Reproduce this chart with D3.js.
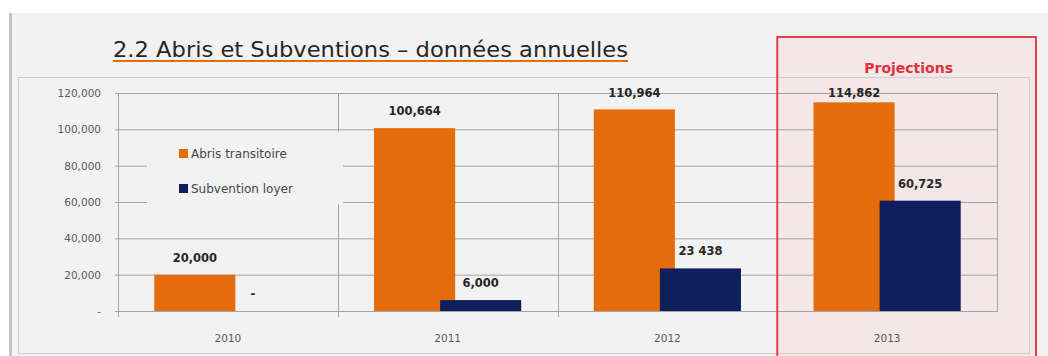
<!DOCTYPE html>
<html>
<head>
<meta charset="utf-8">
<script src="https://cdn.jsdelivr.net/npm/d3@7/dist/d3.min.js"></script>
<style>
  html, body { margin: 0; padding: 0; background: #ffffff; }
  svg { display: block; }
</style>
</head>
<body>
<svg id="chart" width="1048" height="356"></svg>
<script>
// Annual figures: transitional shelters vs. rent subsidies
const years = ["2010", "2011", "2012", "2013"];
const abrisValues = [20000, 100664, 110964, 114862];
const subventionValues = [0, 6000, 23438, 60725];
const abrisLabels = ["20,000", "100,664", "110,964", "114,862"];
const subventionLabels = ["-", "6,000", "23 438", "60,725"];
const yTicks = [0, 20000, 40000, 60000, 80000, 100000, 120000];
const yTickLabels = ["-", "20,000", "40,000", "60,000", "80,000", "100,000", "120,000"];
const seriesNames = ["Abris transitoire", "Subvention loyer"];
const projectedYear = "2013";

const ORANGE = "#e46c0a";
const NAVY = "#0f1f5e";
const BG = "#f2f2f2";
const GRID = "#a3a3a3";

const svg = d3.select("#chart");

// slide background
svg.append("rect").attr("x", 12).attr("y", 13).attr("width", 1036).attr("height", 343).attr("fill", BG);
svg.append("rect").attr("x", 9).attr("y", 13).attr("width", 3).attr("height", 343).attr("fill", "#c4c4c4");

// scales
const x = d3.scaleBand().domain(years).range([118, 997]);
const y = d3.scaleLinear().domain([0, 120000]).range([311, 93]);
const barW = x.bandwidth() * 0.369;
const overlap = barW * 0.185;

// projection highlight (fill under the chart)
const projX = x(projectedYear);
svg.append("rect")
  .attr("x", projX).attr("y", 37)
  .attr("width", 1036 - projX).attr("height", 330)
  .attr("fill", "#f3e7e7");

// title
svg.append("text")
  .attr("x", 113).attr("y", 57)
  .attr("font-family", "DejaVu Sans, sans-serif")
  .attr("font-size", 21)
  .attr("fill", "#262626")
  .attr("textLength", 515)
  .attr("lengthAdjust", "spacingAndGlyphs")
  .text("2.2 Abris et Subventions – données annuelles");
svg.append("line")
  .attr("x1", 113).attr("x2", 628).attr("y1", 61).attr("y2", 61)
  .attr("stroke", ORANGE).attr("stroke-width", 2);

// chart area frame
svg.append("rect")
  .attr("x", 18.5).attr("y", 77.5).attr("width", 1011).attr("height", 276)
  .attr("fill", "none").attr("stroke", "#cdcdcd").attr("stroke-width", 1);

// horizontal gridlines + y axis labels
const yAxis = d3.axisLeft(y)
  .tickValues(yTicks)
  .tickSize(-(997 - 118) - 3)
  .tickPadding(14)
  .tickFormat((d, i) => yTickLabels[i]);
const gy = svg.append("g").attr("transform", "translate(115,0)").call(yAxis);
gy.select(".domain").remove();
gy.selectAll(".tick line").attr("stroke", GRID);
gy.selectAll(".tick text")
  .attr("font-family", "DejaVu Sans, sans-serif")
  .attr("font-size", 10.5)
  .attr("fill", "#595959");

// category dividers with tick marks below the baseline
const bounds = years.map(d => x(d)).concat([x.range()[1]]);
svg.append("g").selectAll("line").data(bounds).join("line")
  .attr("x1", d => Math.round(d) + 0.5).attr("x2", d => Math.round(d) + 0.5)
  .attr("y1", y(120000)).attr("y2", (d, i) => i === bounds.length - 1 ? y(0) + 1 : y(0) + 6)
  .attr("stroke", GRID);

// x axis labels
const gx = svg.append("g").attr("transform", `translate(0,${y(0)})`)
  .call(d3.axisBottom(x).tickSize(0).tickPadding(24));
gx.select(".domain").remove();
gx.selectAll(".tick text")
  .attr("font-family", "DejaVu Sans, sans-serif")
  .attr("font-size", 10.5)
  .attr("fill", "#595959");

// legend (opaque box over the grid)
const legend = svg.append("g");
legend.append("rect").attr("x", 147).attr("y", 132).attr("width", 196).attr("height", 72).attr("fill", BG);
[ORANGE, NAVY].forEach((c, i) => {
  legend.append("rect").attr("x", 179).attr("y", 149 + i * 35).attr("width", 9).attr("height", 9).attr("fill", c);
  legend.append("text")
    .attr("x", 191).attr("y", 158 + i * 35)
    .attr("font-family", "DejaVu Sans, sans-serif")
    .attr("font-size", 12)
    .attr("fill", "#454545")
    .text(seriesNames[i]);
});

// bars
const cx = d => x(d) + x.bandwidth() / 2;
const abrisX = d => cx(d) - barW + overlap / 2;
const subX = d => cx(d) - overlap / 2;

svg.append("g").selectAll("rect").data(years).join("rect")
  .attr("x", d => abrisX(d)).attr("width", barW)
  .attr("y", (d, i) => y(abrisValues[i]))
  .attr("height", (d, i) => y(0) - y(abrisValues[i]))
  .attr("fill", ORANGE);

svg.append("g").selectAll("rect").data(years).join("rect")
  .attr("x", d => subX(d)).attr("width", barW)
  .attr("y", (d, i) => y(subventionValues[i]))
  .attr("height", (d, i) => y(0) - y(subventionValues[i]))
  .attr("fill", NAVY);

// value labels
const labelY = v => Math.max(y(v) - 13, 97);
const labelStyle = sel => sel
  .attr("font-family", "DejaVu Sans, sans-serif")
  .attr("font-weight", "bold")
  .attr("font-size", 11.5)
  .attr("fill", "#262626")
  .attr("text-anchor", "middle");

svg.append("g").selectAll("text").data(years).join("text")
  .attr("x", d => abrisX(d) + barW / 2)
  .attr("y", (d, i) => labelY(abrisValues[i]))
  .call(labelStyle)
  .text((d, i) => abrisLabels[i]);

svg.append("g").selectAll("text").data(years).join("text")
  .attr("x", (d, i) => subX(d) + barW / 2 - (subventionValues[i] === 0 ? 8 : 0))
  .attr("y", (d, i) => labelY(subventionValues[i]))
  .call(labelStyle)
  .text((d, i) => subventionLabels[i]);

// projection frame + caption
svg.append("rect")
  .attr("x", projX).attr("y", 37)
  .attr("width", 1036 - projX).attr("height", 330)
  .attr("fill", "none").attr("stroke", "#e2404b").attr("stroke-width", 2);
svg.append("text")
  .attr("x", (projX + 1036) / 2 + 2).attr("y", 73)
  .attr("text-anchor", "middle")
  .attr("font-family", "DejaVu Sans, sans-serif")
  .attr("font-weight", "bold")
  .attr("font-size", 14)
  .attr("fill", "#e2303c")
  .text("Projections");
</script>
</body>
</html>
